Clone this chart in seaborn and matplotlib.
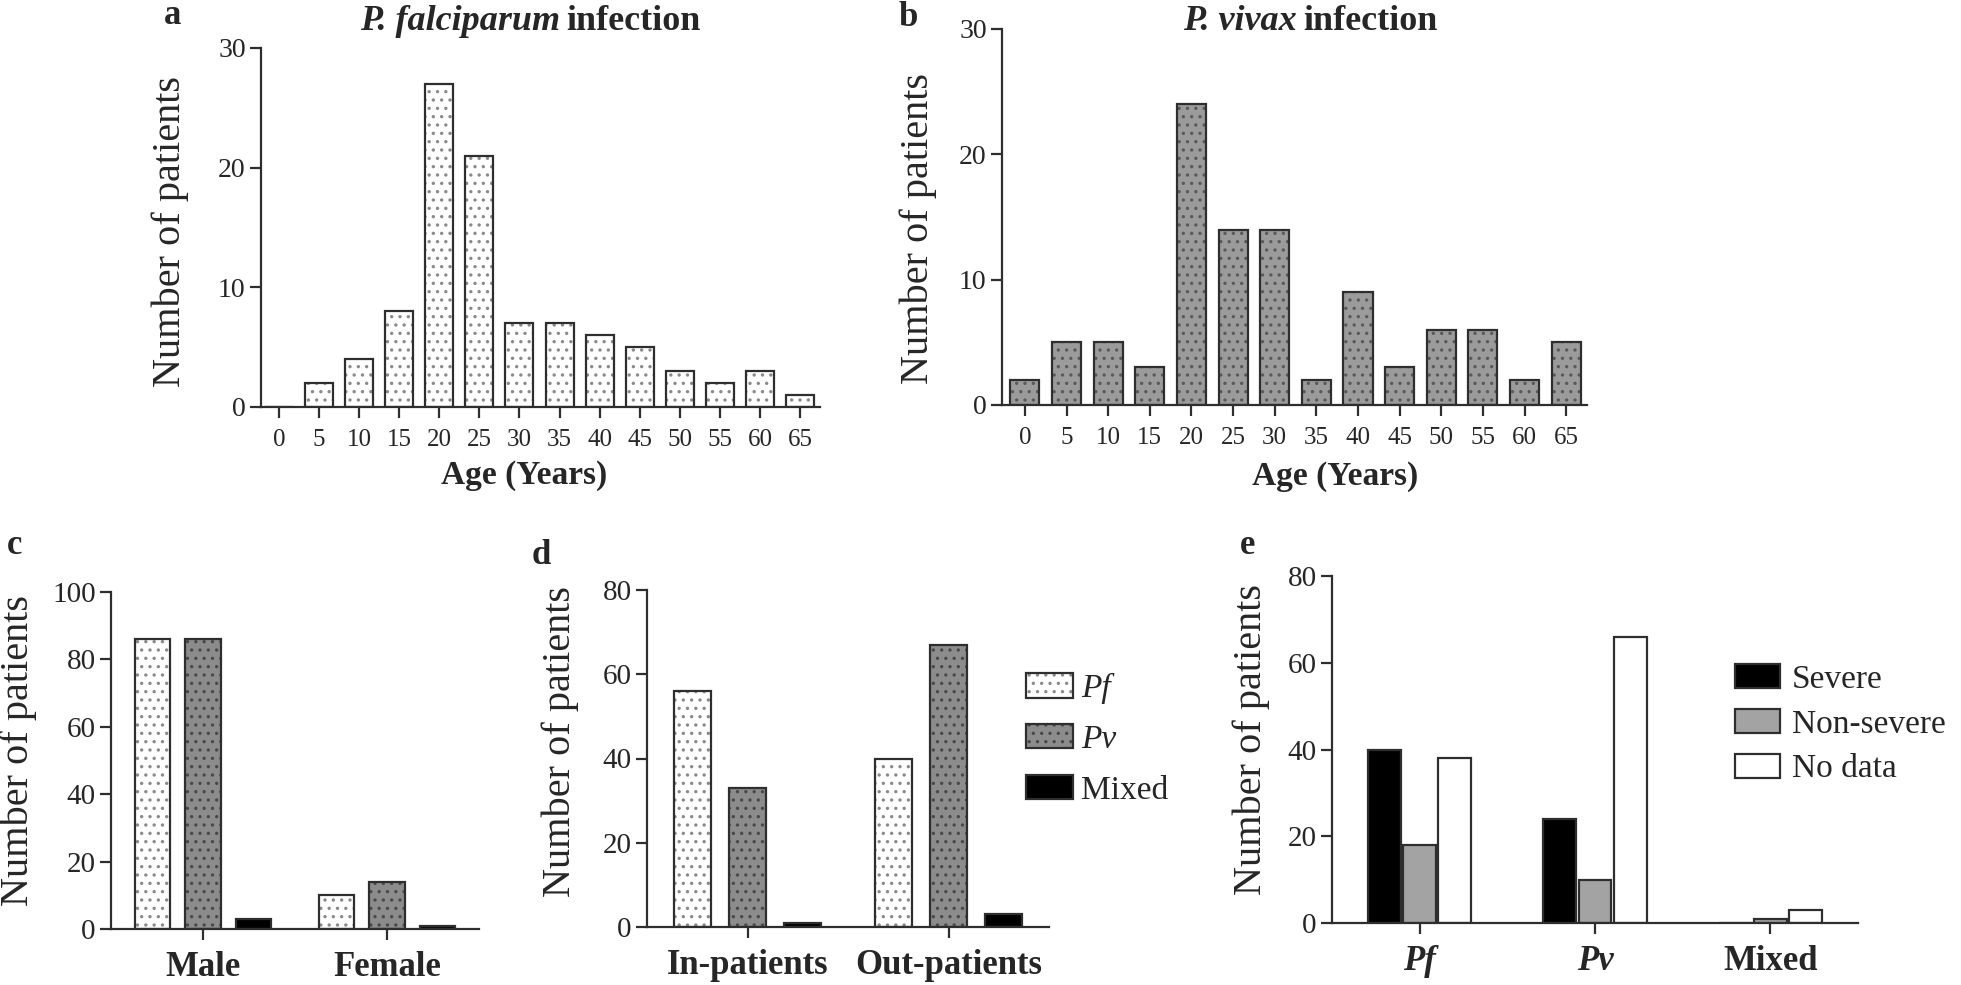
import matplotlib
matplotlib.use('Agg')
import matplotlib.pyplot as plt
import seaborn as sns
import pandas as pd
from matplotlib.colors import to_rgba

# --- data ---
ages = ['0', '5', '10', '15', '20', '25', '30', '35', '40', '45', '50', '55', '60', '65']
pf_age = [0, 2, 4, 8, 27, 21, 7, 7, 6, 5, 3, 2, 3, 1]
pv_age = [2, 5, 5, 3, 24, 14, 14, 2, 9, 3, 6, 6, 2, 5]

species = ['Pf', 'Pv', 'Mixed']
sex_groups = ['Male', 'Female']
male_counts = [86, 86, 3]
female_counts = [10, 14, 1]

care_groups = ['In-patients', 'Out-patients']
inpatient_counts = [56, 33, 1]
outpatient_counts = [40, 67, 3]

severity = ['Severe', 'Non-severe', 'No data']
pf_severity = [40, 18, 38]
pv_severity = [24, 10, 66]
mixed_severity = [0, 1, 3]

# --- style ---
sns.set_theme(style='ticks')
plt.rcParams['font.family'] = ['Liberation Serif', 'DejaVu Serif']
plt.rcParams['hatch.linewidth'] = 1.2

EDGE = '#2e2e2e'
W, H = 1961, 985

fig = plt.figure(figsize=(W / 100, H / 100), dpi=100)


def px_axes(left, right, top, bottom):
    return fig.add_axes([left / W, 1 - bottom / H, (right - left) / W, (bottom - top) / H])


def style_axes(ax, xsize, ysize, xbold=False):
    sns.despine(ax=ax)
    for side in ['left', 'bottom']:
        ax.spines[side].set_color(EDGE)
        ax.spines[side].set_linewidth(1.6)
    ax.tick_params(axis='both', direction='out', length=8, width=1.6, color=EDGE)
    ax.tick_params(axis='x', labelsize=xsize, pad=8)
    ax.tick_params(axis='y', labelsize=ysize, pad=3)
    if xbold:
        for t in ax.get_xticklabels():
            t.set_fontweight('bold')
    ax.set_xlabel('')
    ax.set_ylabel('')


def hatch_bars(container, hatch, dot_color):
    for p in container:
        p.set_hatch(hatch)
        p._hatch_color = to_rgba(dot_color)
        p.stale = True


def panel_letter(x, y, s):
    fig.text(x / W, 1 - y / H, s, fontsize=25, fontweight='bold', ha='center', va='center')


# ---------- a ----------
ax_a = px_axes(261, 820, 48, 407)
sns.barplot(x=ages, y=pf_age, color='white', saturation=1, width=0.7,
            edgecolor=EDGE, linewidth=1.6, ax=ax_a)
hatch_bars(ax_a.containers[0], '..', '#8a8a8a')
ax_a.set_ylim(0, 30)
ax_a.set_yticks([0, 10, 20, 30])
ax_a.set_xlim(-0.45, 13.5)
style_axes(ax_a, 18, 20)
ax_a.set_ylabel('Number of patients', fontsize=29, va='center')
ax_a.yaxis.set_label_coords(-0.163, 0.49)
ax_a.set_xlabel('Age (Years)', fontsize=24, fontweight='bold', va='center')
ax_a.xaxis.set_label_coords(0.47, -0.19)
panel_letter(173, 15, 'a')
fig.text(560 / W, 1 - 22 / H, 'P. falciparum', fontsize=26, fontweight='bold',
         fontstyle='italic', ha='right', va='center')
fig.text(566 / W, 1 - 22 / H, 'infection', fontsize=26, fontweight='bold',
         ha='left', va='center')

# ---------- b ----------
ax_b = px_axes(1002, 1587, 29, 405)
sns.barplot(x=ages, y=pv_age, color='#9b9b9b', saturation=1, width=0.7,
            edgecolor=EDGE, linewidth=1.6, ax=ax_b)
hatch_bars(ax_b.containers[0], '..', '#5a5a5a')
ax_b.set_ylim(0, 30)
ax_b.set_yticks([0, 10, 20, 30])
ax_b.set_xlim(-0.55, 13.5)
style_axes(ax_b, 18, 20)
ax_b.set_ylabel('Number of patients', fontsize=29, va='center')
ax_b.yaxis.set_label_coords(-0.144, 0.47)
ax_b.set_xlabel('Age (Years)', fontsize=24, fontweight='bold', va='center')
ax_b.xaxis.set_label_coords(0.569, -0.19)
panel_letter(908, 18, 'b')
fig.text(1297 / W, 1 - 22 / H, 'P. vivax', fontsize=26, fontweight='bold',
         fontstyle='italic', ha='right', va='center')
fig.text(1303 / W, 1 - 22 / H, 'infection', fontsize=26, fontweight='bold',
         ha='left', va='center')

# ---------- c ----------
species_fill = ['white', '#8c8c8c', 'black']
species_dots = ['#8a8a8a', '#4a4a4a', None]

df_c = pd.DataFrame({
    'group': [g for g in sex_groups for _ in species],
    'species': species * len(sex_groups),
    'count': male_counts + female_counts,
})
ax_c = px_axes(111, 479, 592, 929)
sns.barplot(data=df_c, x='group', y='count', hue='species', hue_order=species,
            palette=species_fill, saturation=1, width=0.82, gap=0.3,
            edgecolor=EDGE, linewidth=1.6, legend=False, ax=ax_c)
for cont, dots in zip(ax_c.containers, species_dots):
    if dots:
        hatch_bars(cont, '..', dots)
ax_c.set_ylim(0, 100)
ax_c.set_yticks([0, 20, 40, 60, 80, 100])
ax_c.set_xlim(-0.5, 1.5)
style_axes(ax_c, 25, 21, xbold=True)
ax_c.set_ylabel('Number of patients', fontsize=29, va='center')
ax_c.yaxis.set_label_coords(-0.253, 0.53)
panel_letter(15, 546, 'c')

# ---------- d ----------
df_d = pd.DataFrame({
    'group': [g for g in care_groups for _ in species],
    'species': species * len(care_groups),
    'count': inpatient_counts + outpatient_counts,
})
ax_d = px_axes(647, 1049, 590, 927)
sns.barplot(data=df_d, x='group', y='count', hue='species', hue_order=species,
            palette=species_fill, saturation=1, width=0.82, gap=0.33,
            edgecolor=EDGE, linewidth=1.6, legend=False, ax=ax_d)
for cont, dots in zip(ax_d.containers, species_dots):
    if dots:
        hatch_bars(cont, '..', dots)
ax_d.set_ylim(0, 80)
ax_d.set_yticks([0, 20, 40, 60, 80])
ax_d.set_xlim(-0.5, 1.5)
style_axes(ax_d, 25, 21, xbold=True)
ax_d.set_ylabel('Number of patients', fontsize=29, va='center')
ax_d.yaxis.set_label_coords(-0.216, 0.55)
leg_d = ax_d.legend(handles=list(ax_d.containers), labels=species, frameon=False,
                    loc='upper left', bbox_to_anchor=(1026 / W, 1 - 673 / H),
                    bbox_transform=fig.transFigure, fontsize=24, handlelength=1.4,
                    handleheight=0.75, handletextpad=0.25, labelspacing=0.6,
                    borderpad=0, borderaxespad=0)
for t in leg_d.get_texts()[:2]:
    t.set_fontstyle('italic')
panel_letter(541, 556, 'd')

# ---------- e ----------
sev_groups = ['Pf', 'Pv', 'Mixed']
df_e = pd.DataFrame({
    'group': [g for g in sev_groups for _ in severity],
    'severity': severity * len(sev_groups),
    'count': pf_severity + pv_severity + mixed_severity,
})
ax_e = px_axes(1332, 1858, 576, 923)
sns.barplot(data=df_e, x='group', y='count', hue='severity', hue_order=severity,
            palette=['black', '#a3a3a3', 'white'], saturation=1, width=0.6, gap=0.06,
            edgecolor=EDGE, linewidth=1.6, legend=False, ax=ax_e)
ax_e.set_ylim(0, 80)
ax_e.set_yticks([0, 20, 40, 60, 80])
ax_e.set_xlim(-0.5, 2.5)
style_axes(ax_e, 25, 21, xbold=True)
for t in ax_e.get_xticklabels()[:2]:
    t.set_fontstyle('italic')
ax_e.set_ylabel('Number of patients', fontsize=29, va='center')
ax_e.yaxis.set_label_coords(-0.154, 0.53)
ax_e.legend(handles=list(ax_e.containers), labels=severity, frameon=False,
            loc='upper left', bbox_to_anchor=(1735 / W, 1 - 664 / H),
            bbox_transform=fig.transFigure, fontsize=24, handlelength=1.35,
            handleheight=0.75, handletextpad=0.35, labelspacing=0.42,
            borderpad=0, borderaxespad=0)
panel_letter(1248, 546, 'e')

fig.savefig('out.png', dpi=100)
